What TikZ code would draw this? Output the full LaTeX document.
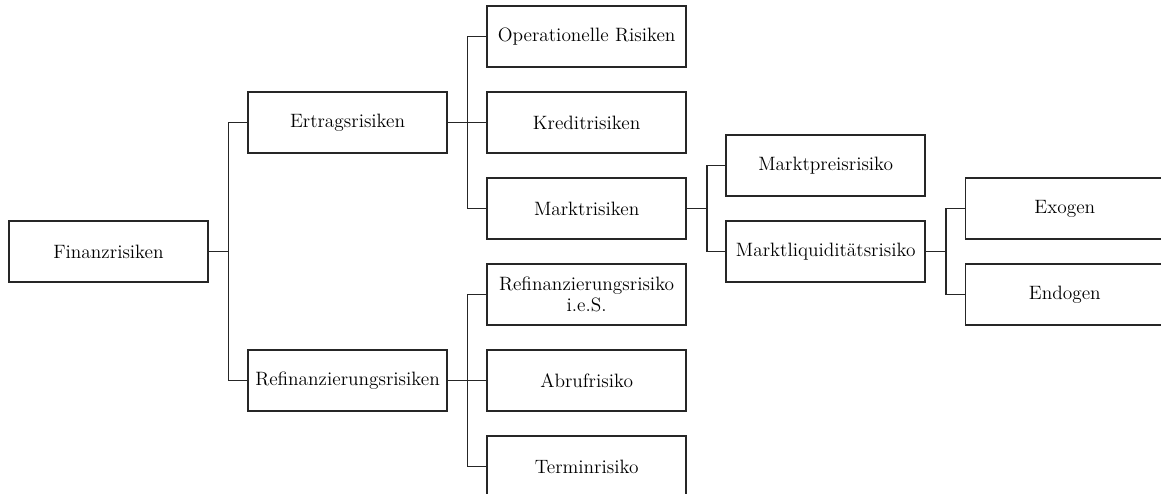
\documentclass[tikz,border=0pt]{standalone}
\usetikzlibrary{positioning}
\begin{document}
\begin{tikzpicture}[node distance=0.47cm and 0.77cm]
	\clip (-2.17,-4.85) rectangle (21.05,5.03);
	\tikzstyle{risk}=[rectangle, draw=black!85, line width=0.9pt, minimum width=3.98cm, minimum height=1.22cm, inner sep=1pt, align=center, font=\fontsize{11}{12}\selectfont]
	\node[risk] 							(fin) {Finanzrisiken};
	\node[risk, right=of fin, yshift=2.58cm] 	(ert) {Ertragsrisiken};
	\node[risk, right=of fin, yshift=-2.58cm] 	(ref) {Refinanzierungsrisiken};
	\node[risk, right=of ert] 				(kre) {Kreditrisiken};
	\node[risk, above=of kre] 				(ope) {Operationelle Risiken};
	\node[risk, below=of kre] 				(mar) {Marktrisiken};
	\node[risk, right=of ref] 				(abr) {Abrufrisiko};
	\node[risk, above=of abr] 				(rie) {Refinanzierungsrisiko\\i.e.S.};
	\node[risk, below=of abr] 				(ter) {Terminrisiko};
	\node[risk, right=of mar, yshift=0.86cm] 	(mpr) {Marktpreisrisiko};
	\node[risk, below=of mpr] 				(mlq) {Marktliquiditätsrisiko};
	\node[risk, right=of mlq, yshift=0.86cm] 	(exo) {Exogen};
	\node[risk, below=of exo] 				(endo) {Endogen};

	\begin{scope}[line width=0.7pt, black!85]
		\draw	(fin.east) -- ++(0.4,0) |- (ert.west);
		\draw	(fin.east) -- ++(0.4,0) |- (ref.west);
		\draw	(ert.east) -- ++(0.4,0) |- (ope.west);
		\draw	(ert.east) -- ++(0.4,0) |- (kre.west);
		\draw	(ert.east) -- ++(0.4,0) |- (mar.west);
		\draw	(ref.east) -- ++(0.4,0) |- (rie.west);
		\draw	(ref.east) -- ++(0.4,0) |- (abr.west);
		\draw	(ref.east) -- ++(0.4,0) |- (ter.west);
		\draw	(mar.east) -- ++(0.4,0) |- (mpr.west);
		\draw	(mar.east) -- ++(0.4,0) |- (mlq.west);
		\draw	(mlq.east) -- ++(0.4,0) |- (exo.west);
		\draw	(mlq.east) -- ++(0.4,0) |- (endo.west);
	\end{scope}
\end{tikzpicture}
\end{document}
